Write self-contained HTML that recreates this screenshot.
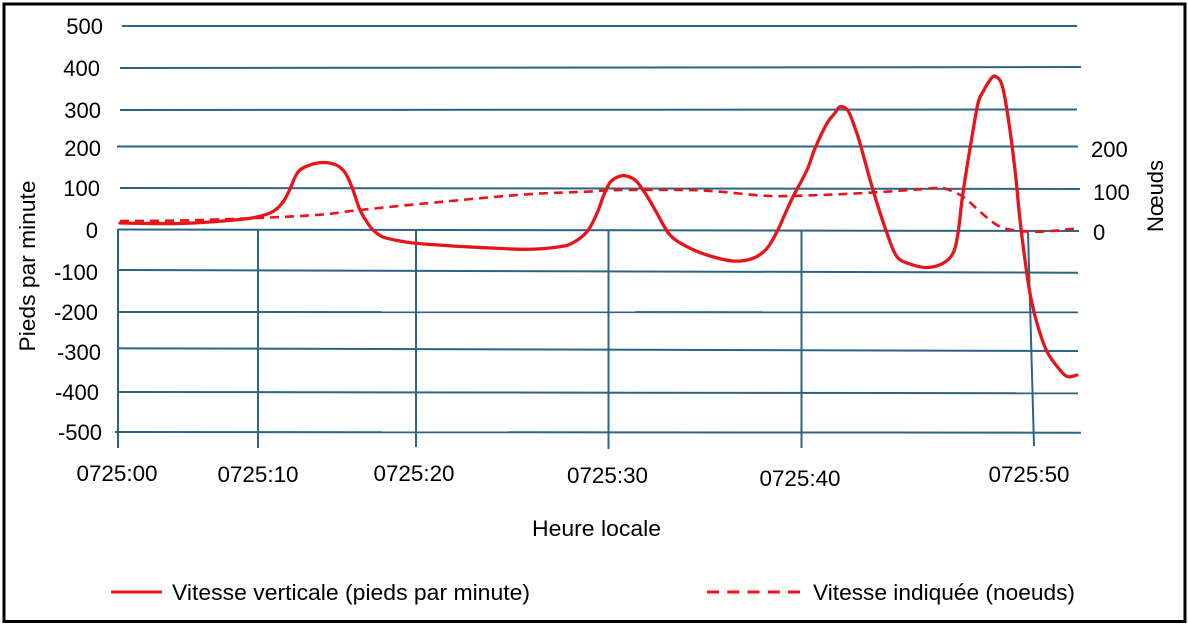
<!DOCTYPE html>
<html>
<head>
<meta charset="utf-8">
<style>
  html,body{margin:0;padding:0;background:#fff;}
  svg{display:block;}
  text{font-family:"Liberation Sans", Arial, sans-serif; fill:#000;}
</style>
</head>
<body>
<svg id="chart" width="1188" height="625" viewBox="0 0 1188 625" xmlns="http://www.w3.org/2000/svg">
  <rect x="0" y="0" width="1188" height="625" fill="#fff"/>
  <rect x="4" y="4" width="1181" height="617.5" fill="none" stroke="#000" stroke-width="3"/>

  <!-- horizontal grid lines -->
  <g stroke="#2b6487" stroke-width="2" fill="none">
    <line x1="122" y1="26" x2="1077" y2="26"/>
    <line x1="120" y1="68" x2="1081" y2="67"/>
    <line x1="120" y1="110" x2="1077" y2="109.5"/>
    <line x1="117" y1="146.5" x2="1078" y2="146.5"/>
    <line x1="120" y1="188" x2="1080" y2="189"/>
    <line x1="118" y1="229.5" x2="1079" y2="231"/>
    <line x1="118" y1="270" x2="1078" y2="272.7"/>
    <line x1="118" y1="312" x2="1078" y2="312.3"/>
    <line x1="118" y1="348.3" x2="1078" y2="351"/>
    <line x1="118" y1="392" x2="1078" y2="393.3"/>
    <line x1="115" y1="432" x2="1081" y2="432.7"/>
    <!-- verticals -->
    <line x1="118" y1="229" x2="118" y2="448"/>
    <line x1="258" y1="229" x2="258" y2="448"/>
    <line x1="416" y1="230" x2="416" y2="447"/>
    <line x1="608.5" y1="231" x2="608.5" y2="449"/>
    <line x1="801.5" y1="231" x2="801.5" y2="448"/>
    <line x1="1028" y1="231" x2="1034" y2="446"/>
  </g>

  <!-- left axis labels -->
  <g font-size="22" text-anchor="end">
    <text x="103" y="34">500</text>
    <text x="100" y="76">400</text>
    <text x="101" y="118">300</text>
    <text x="101" y="156">200</text>
    <text x="100" y="196">100</text>
    <text x="98" y="238">0</text>
    <text x="98" y="280">-100</text>
    <text x="98" y="320">-200</text>
    <text x="101" y="360">-300</text>
    <text x="99" y="400">-400</text>
    <text x="102" y="440">-500</text>
  </g>

  <!-- right axis labels -->
  <g font-size="22" text-anchor="start">
    <text x="1091" y="157">200</text>
    <text x="1093" y="200">100</text>
    <text x="1093" y="240">0</text>
  </g>
  <text font-size="22" text-anchor="middle" transform="translate(1163,196) rotate(-90)" textLength="72" lengthAdjust="spacingAndGlyphs">Nœuds</text>
  <text font-size="22" text-anchor="middle" transform="translate(35,266) rotate(-90)" textLength="171" lengthAdjust="spacingAndGlyphs">Pieds par minute</text>

  <!-- x labels -->
  <g font-size="22" text-anchor="middle">
    <text x="117" y="481" textLength="81" lengthAdjust="spacingAndGlyphs">0725:00</text>
    <text x="258" y="482" textLength="81" lengthAdjust="spacingAndGlyphs">0725:10</text>
    <text x="414" y="481" textLength="81" lengthAdjust="spacingAndGlyphs">0725:20</text>
    <text x="607.5" y="483" textLength="81" lengthAdjust="spacingAndGlyphs">0725:30</text>
    <text x="800" y="486" textLength="81" lengthAdjust="spacingAndGlyphs">0725:40</text>
    <text x="1029" y="482" textLength="81" lengthAdjust="spacingAndGlyphs">0725:50</text>
  </g>
  <text font-size="22" x="532" y="536" textLength="129" lengthAdjust="spacingAndGlyphs">Heure locale</text>

  <!-- dashed series -->
  <polyline class="smooth" fill="none" stroke="#e8141a" stroke-width="2.6" stroke-dasharray="9 6" stroke-linejoin="round"
    points="120,221 180,220.5 258,218 320,214.7 360,210 443,201.7 527,194.3 587,191.7 620,190 687,190 720,191.7 770,196 820,195 870,192.7 920,189.3 935,188 945,188.5 963,196.7 980,211.7 997,225 1013,230 1040,231.7 1077,228.3"/>

  <!-- solid series -->
  <polyline class="smooth" fill="none" stroke="#e8141a" stroke-width="3.3" stroke-linejoin="round" stroke-linecap="round"
    points="120,223 150,223.5 180,223.5 210,222 240,219.5 257,217 273,211.5 283,202 290,189 298,172 310,165 323,162.5 335,164.5 343,170 348,178 353,190 360,210 367,222 373,230 383,237 400,241 413,243 445,245.5 477,247.3 527,249.3 560,246.7 573,242.7 587,231.7 597,213.3 603,197 609,184 615,178.3 624,175.7 635,180 643,190 650,201 657,213.3 670,235 687,246.7 707,255 733,261 753,258.3 767,248.3 777,231.7 785,214 793,196.7 807,170 815,148.3 827,123.3 835,113 840,106.8 848,110.7 855,128 860,143.3 873,190 887,233.3 897,256.7 910,264 927,267.5 943,263.3 953,253.3 958,233.3 962,200 967,166.7 972,136.7 978,103.3 983,91.7 990,80 995,76.2 1002,85 1008,116.7 1015,170 1020,220 1025,260 1030,293.3 1037,323.3 1047,351.7 1060,370 1068,376.7 1077,375"/>

  <!-- legend -->
  <line x1="111" y1="592" x2="162" y2="592" stroke="#e8141a" stroke-width="3"/>
  <text font-size="22" x="172" y="600" textLength="358" lengthAdjust="spacingAndGlyphs">Vitesse verticale (pieds par minute)</text>
  <line x1="707" y1="592" x2="800" y2="592" stroke="#e8141a" stroke-width="3" stroke-dasharray="12 8.25"/>
  <text font-size="22" x="813" y="600" textLength="262" lengthAdjust="spacingAndGlyphs">Vitesse indiquée (noeuds)</text>
</svg>
<script>
(function(){
  try{
    var NS="http://www.w3.org/2000/svg";
    var pls=document.querySelectorAll("polyline.smooth");
    for(var k=0;k<pls.length;k++){
      var pl=pls[k];
      var raw=pl.getAttribute("points").trim().split(/\s+/);
      var p=[];
      for(var i=0;i<raw.length;i++){var c=raw[i].split(",");p.push([parseFloat(c[0]),parseFloat(c[1])]);}
      var d="M"+p[0][0]+","+p[0][1];
      for(var i=0;i<p.length-1;i++){
        var p0=p[i>0?i-1:i],p1=p[i],p2=p[i+1],p3=p[i+2<p.length?i+2:i+1];
        var c1x=p1[0]+(p2[0]-p0[0])/6,c1y=p1[1]+(p2[1]-p0[1])/6;
        var c2x=p2[0]-(p3[0]-p1[0])/6,c2y=p2[1]-(p3[1]-p1[1])/6;
        d+=" C"+c1x.toFixed(2)+","+c1y.toFixed(2)+" "+c2x.toFixed(2)+","+c2y.toFixed(2)+" "+p2[0]+","+p2[1];
      }
      var path=document.createElementNS(NS,"path");
      var attrs=["fill","stroke","stroke-width","stroke-dasharray","stroke-linejoin","stroke-linecap"];
      for(var a=0;a<attrs.length;a++){var v=pl.getAttribute(attrs[a]);if(v!==null)path.setAttribute(attrs[a],v);}
      path.setAttribute("d",d);
      pl.parentNode.replaceChild(path,pl);
    }
  }catch(e){}
})();
</script>
</body>
</html>
